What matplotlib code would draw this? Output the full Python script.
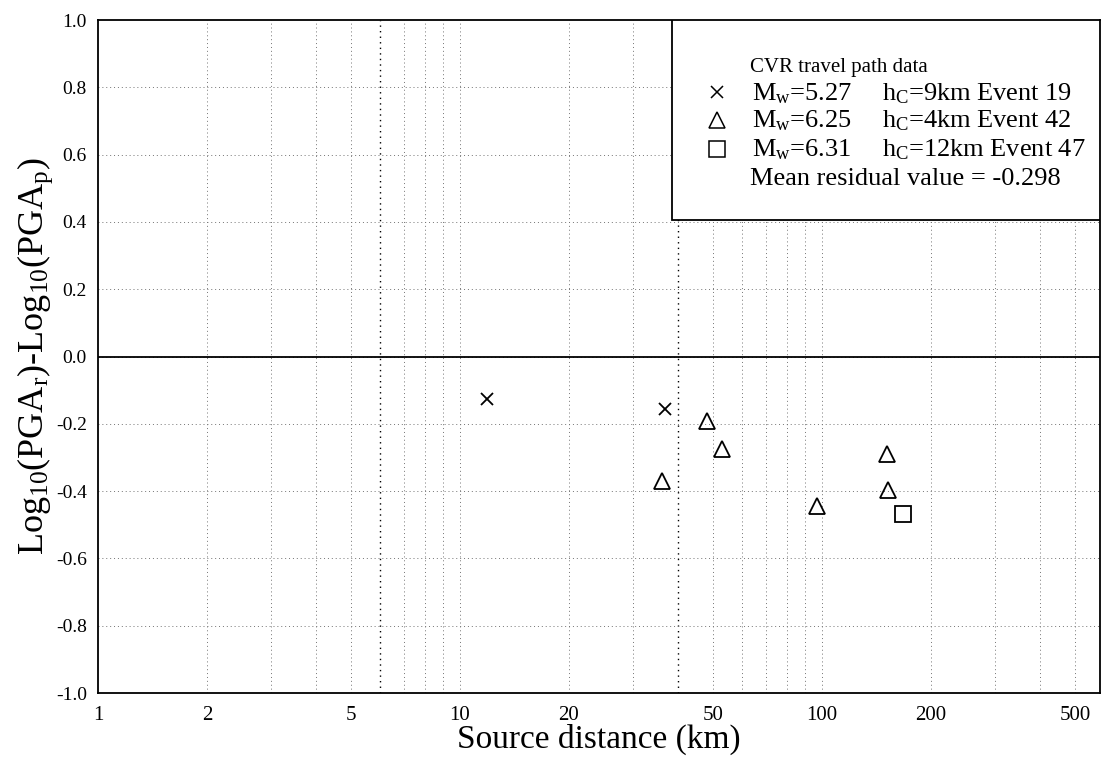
import numpy as np
import matplotlib
matplotlib.use("Agg")
import matplotlib.pyplot as plt
from matplotlib.patches import Rectangle
from matplotlib.ticker import FixedLocator, FixedFormatter

plt.rcParams['font.family'] = ['Liberation Serif', 'DejaVu Serif']
plt.rcParams['mathtext.fontset'] = 'custom'
plt.rcParams['mathtext.rm'] = 'Liberation Serif'
plt.rcParams['mathtext.it'] = 'Liberation Serif:italic'
plt.rcParams['axes.unicode_minus'] = False

# event 19 (crosses), event 42 (triangles), event 47 (square)
ev19_dist = [11.9, 36.8]
ev19_res = [-0.126, -0.156]
ev42_dist = [36.1, 48.1, 52.9, 96.9, 151, 152]
ev42_res = [-0.369, -0.191, -0.274, -0.443, -0.289, -0.396]
ev47_dist = [167]
ev47_res = [-0.467]

x_ticks = [1, 2, 5, 10, 20, 50, 100, 200, 500]
y_ticks = [-1.0, -0.8, -0.6, -0.4, -0.2, 0.0, 0.2, 0.4, 0.6, 0.8, 1.0]
x_grid = [2, 3, 4, 5, 6, 7, 8, 9, 10, 20, 30, 40, 50, 60, 70, 80, 90, 100, 200, 300, 400, 500]
x_grid_dark = [6, 40]

legend_title = "CVR travel path data"
legend_rows = [
    ("x", r"M$_{\rm w}$=5.27", r"h$_{\rm C}$=9km Event 19"),
    ("^", r"M$_{\rm w}$=6.25", r"h$_{\rm C}$=4km Event 42"),
    ("s", r"M$_{\rm w}$=6.31", r"h$_{\rm C}$=12km Event 47"),
]
mean_text = "Mean residual value = -0.298"

fig = plt.figure(figsize=(11.02, 7.57), dpi=100)
ax = fig.add_axes([0.0889, 0.0845, 0.9093, 0.889])
ax.set_xscale('log')
ax.set_xlim(1, 586)
ax.set_ylim(-1.0, 1.0)

# dotted grid
for xv in x_grid:
    dark = xv in x_grid_dark
    ax.axvline(xv, color='black' if dark else '0.45', lw=1.0 if dark else 0.7,
               ls=(0, (1, 3)), zorder=1)
for yv in y_ticks[1:-1]:
    ax.axhline(yv, color='0.45', lw=0.7, ls=(0, (1, 3)), zorder=1)
ax.axhline(0, color='black', lw=1.3, zorder=2)

ax.plot(ev19_dist, ev19_res, ls='none', marker='x', ms=9, mew=1.3, color='black', zorder=5)
ax.plot(ev42_dist, ev42_res, ls='none', marker='^', ms=12, mew=1.3, mfc='none', mec='black', zorder=5)
ax.plot(ev47_dist, ev47_res, ls='none', marker='s', ms=12, mew=1.3, mfc='none', mec='black', zorder=5)

ax.xaxis.set_major_locator(FixedLocator(x_ticks))
ax.xaxis.set_major_formatter(FixedFormatter([str(v) for v in x_ticks]))
ax.xaxis.set_minor_locator(FixedLocator([]))
ax.set_yticks(y_ticks)
ax.set_yticklabels(["%.1f" % v for v in y_ticks])
ax.tick_params(axis='x', length=0, pad=9, labelsize=15)
ax.tick_params(axis='y', length=0, pad=8, labelsize=14)

for sp in ax.spines.values():
    sp.set_linewidth(1.3)

ax.set_xlabel("Source distance (km)", fontsize=24, va='baseline')
ax.xaxis.set_label_coords(0.5, -0.0817)
ax.set_ylabel(r"Log$_{10}$(PGA$_{\rm r}$)-Log$_{10}$(PGA$_{\rm p}$)", fontsize=26)
ax.yaxis.set_label_coords(-0.043, 0.5)

# legend box
ax.add_patch(Rectangle((0.573, 0.703), 0.427, 0.297, transform=ax.transAxes,
                       facecolor='white', edgecolor='black', lw=1.3, zorder=6))
row_y = [0.923, 0.881, 0.840, 0.797, 0.755]
ax.text(0.651, row_y[0], legend_title, transform=ax.transAxes, fontsize=15,
        va='baseline', zorder=7)
for (mk, left, right), yy in zip(legend_rows, row_y[1:4]):
    ax.plot([0.618], [yy + 0.012], transform=ax.transAxes, ls='none', marker=mk,
            ms=9 if mk == 'x' else 12, mew=1.1, mfc='none', mec='black', color='black',
            zorder=7, clip_on=False)
    ax.text(0.653, yy, left, transform=ax.transAxes, fontsize=19, va='baseline', zorder=7)
    ax.text(0.782, yy, right, transform=ax.transAxes, fontsize=19, va='baseline', zorder=7)
ax.text(0.651, row_y[4], mean_text, transform=ax.transAxes, fontsize=19,
        va='baseline', zorder=7)

fig.savefig("out.png", dpi=100)
